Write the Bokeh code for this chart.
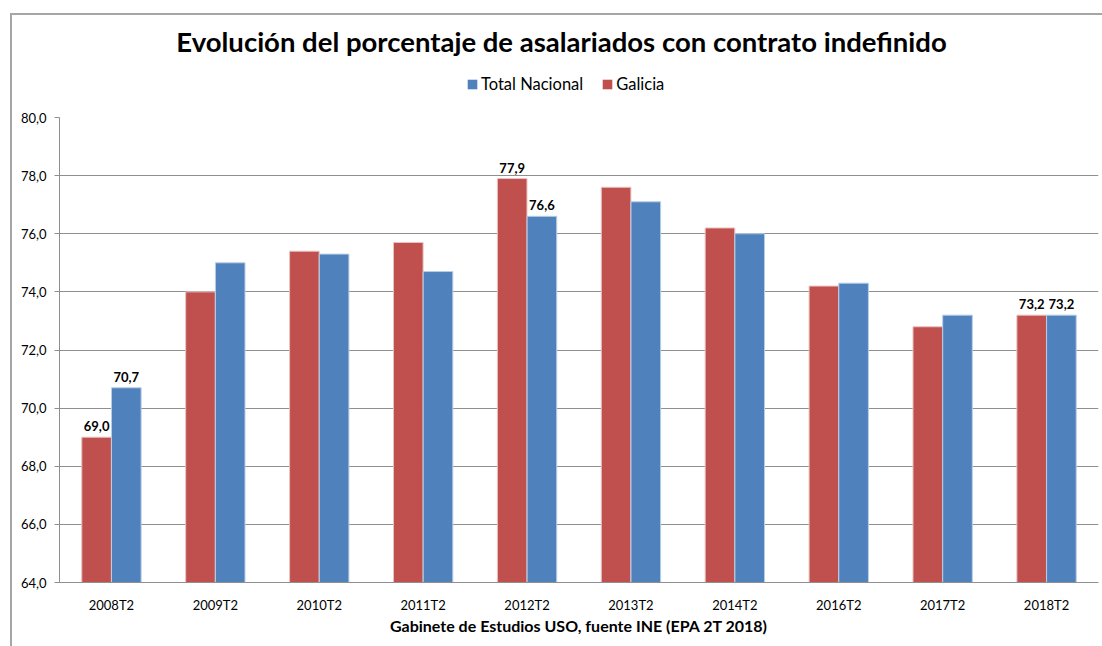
from bokeh.plotting import figure
from bokeh.layouts import column
from bokeh.models import (ColumnDataSource, Legend, LegendItem, Label, InlineStyleSheet,
                          CustomJSTickFormatter, FixedTicker, Range1d)
from bokeh.transform import dodge
from bokeh.core.properties import value
from bokeh.embed import file_html
from bokeh.resources import INLINE

# ---------------- data ----------------
categories = ["2008T2", "2009T2", "2010T2", "2011T2", "2012T2",
              "2013T2", "2014T2", "2016T2", "2017T2", "2018T2"]
galicia = [69.0, 74.0, 75.4, 75.7, 77.9, 77.6, 76.2, 74.2, 72.8, 73.2]
total_nacional = [70.7, 75.0, 75.3, 74.7, 76.6, 77.1, 76.0, 74.3, 73.2, 73.2]
labelled_categories = ["2008T2", "2012T2", "2018T2"]
y_ticks = [64, 66, 68, 70, 72, 74, 76, 78, 80]
title_text = "Evolución del porcentaje de asalariados con contrato indefinido"
x_title = "Gabinete de Estudios USO, fuente INE (EPA 2T 2018)"
series_names = ["Total Nacional", "Galicia"]

FONT = "Lato"
RED = "#C0504D"
BLUE = "#4F81BD"
RED_EDGE = "#e8c4c3"
BLUE_EDGE = "#b9cde5"
GRID = "#8f8f8f"
FRAME_LEFT = 59


def fmt(v):
    return f"{v:.1f}".replace(".", ",")


src = ColumnDataSource(dict(cat=categories, gal=galicia, tot=total_nacional))

idx = [categories.index(c) for c in labelled_categories]
lbl_src = ColumnDataSource(dict(
    cat=labelled_categories,
    gal=[galicia[i] for i in idx],
    tot=[total_nacional[i] for i in idx],
    gal_txt=[fmt(galicia[i]) for i in idx],
    tot_txt=[fmt(total_nacional[i]) for i in idx],
))

# ---------------- main chart ----------------
HEADER_H = 107
p = figure(x_range=categories, y_range=(y_ticks[0], y_ticks[-1]),
           width=1102, height=646 - HEADER_H, output_backend="svg",
           toolbar_location=None,
           min_border_left=FRAME_LEFT, min_border_right=4, min_border_top=10,
           min_border_bottom=64)
p.outline_line_color = None
p.background_fill_color = "white"
p.border_fill_color = "white"

bw = 0.285
off = 0.143
p.vbar(x=dodge("cat", -off, range=p.x_range), top="gal", bottom=y_ticks[0],
       width=bw, source=src, fill_color=RED, line_color=RED_EDGE, line_width=1)
p.vbar(x=dodge("cat", off, range=p.x_range), top="tot", bottom=y_ticks[0],
       width=bw, source=src, fill_color=BLUE, line_color=BLUE_EDGE, line_width=1)

p.text(x=dodge("cat", -off, range=p.x_range), y="gal", text="gal_txt", source=lbl_src,
       text_align="center", text_baseline="bottom", y_offset=-6,
       text_font=value(FONT), text_font_size="13px", text_font_style="bold",
       text_color="black")
p.text(x=dodge("cat", off, range=p.x_range), y="tot", text="tot_txt", source=lbl_src,
       text_align="center", text_baseline="bottom", y_offset=-6,
       text_font=value(FONT), text_font_size="13px", text_font_style="bold",
       text_color="black")

# axes
p.yaxis.ticker = FixedTicker(ticks=y_ticks)
p.yaxis.formatter = CustomJSTickFormatter(code="return tick.toFixed(1).replace('.', ',');")
p.yaxis.major_tick_out = 5
p.yaxis.major_tick_in = 0
p.yaxis.minor_tick_line_color = None
p.yaxis.axis_line_color = GRID
p.yaxis.major_tick_line_color = GRID
p.yaxis.major_label_text_font = FONT
p.yaxis.major_label_text_font_size = "13px"
p.yaxis.major_label_text_color = "black"
p.yaxis.major_label_standoff = 8

p.xaxis.axis_line_color = GRID
p.xaxis.major_tick_line_color = None
p.xaxis.minor_tick_line_color = None
p.xaxis.major_label_text_font = FONT
p.xaxis.major_label_text_font_size = "13px"
p.xaxis.major_label_text_color = "black"
p.xaxis.major_label_standoff = 8
p.xaxis.axis_label = x_title
p.xaxis.axis_label_text_font = FONT
p.xaxis.axis_label_text_font_size = "16px"
p.xaxis.axis_label_text_font_style = "bold"
p.xaxis.axis_label_text_color = "black"
p.xaxis.axis_label_standoff = 0

p.xgrid.grid_line_color = None
p.ygrid.grid_line_color = GRID
p.ygrid.grid_line_width = 1

# ---------------- header: title + legend ----------------
# the legend's source bars have zero width and no outline, so only
# their legend swatches show
h = figure(width=1102, height=HEADER_H, x_range=p.x_range, y_range=Range1d(0, 1),
           output_backend="svg", toolbar_location=None,
           x_axis_type=None, y_axis_type=None, min_border=0)
h.outline_line_color = None
h.grid.visible = False
h.add_layout(Label(x=561 - FRAME_LEFT, y=HEADER_H - 41, x_units="screen", y_units="screen",
                   text=title_text, text_align="center", text_baseline="middle",
                   text_font=FONT, text_font_size="27.5px", text_font_style="bold",
                   text_color="black"))
leg_tot = h.vbar(x="cat", top="tot", bottom=y_ticks[0], width=0, source=src,
                 fill_color=BLUE, line_color=None)
leg_gal = h.vbar(x="cat", top="gal", bottom=y_ticks[0], width=0, source=src,
                 fill_color=RED, line_color=None)
legend = Legend(items=[LegendItem(label=series_names[0], renderers=[leg_tot]),
                       LegendItem(label=series_names[1], renderers=[leg_gal])],
                orientation="horizontal", location=(466 - FRAME_LEFT, HEADER_H - 94),
                padding=0, margin=0, border_line_color=None, background_fill_alpha=0,
                label_text_font=FONT, label_text_font_size="16.5px",
                label_text_color="black",
                glyph_width=12, glyph_height=12, label_standoff=3, spacing=18,
                label_height=14)
h.add_layout(legend)

layout = column(h, p, spacing=0)
# outer chart frame (top and left edges), drawn with CSS
layout.stylesheets = [InlineStyleSheet(css="""
:host::after {
  content: ''; position: absolute; left: 10px; top: 13px; right: 0; bottom: 0;
  border-top: 2px solid #a6a6a6; border-left: 2px solid #a6a6a6;
  pointer-events: none; z-index: 10;
}
""")]

open("out.html", "w").write(file_html(layout, INLINE))
